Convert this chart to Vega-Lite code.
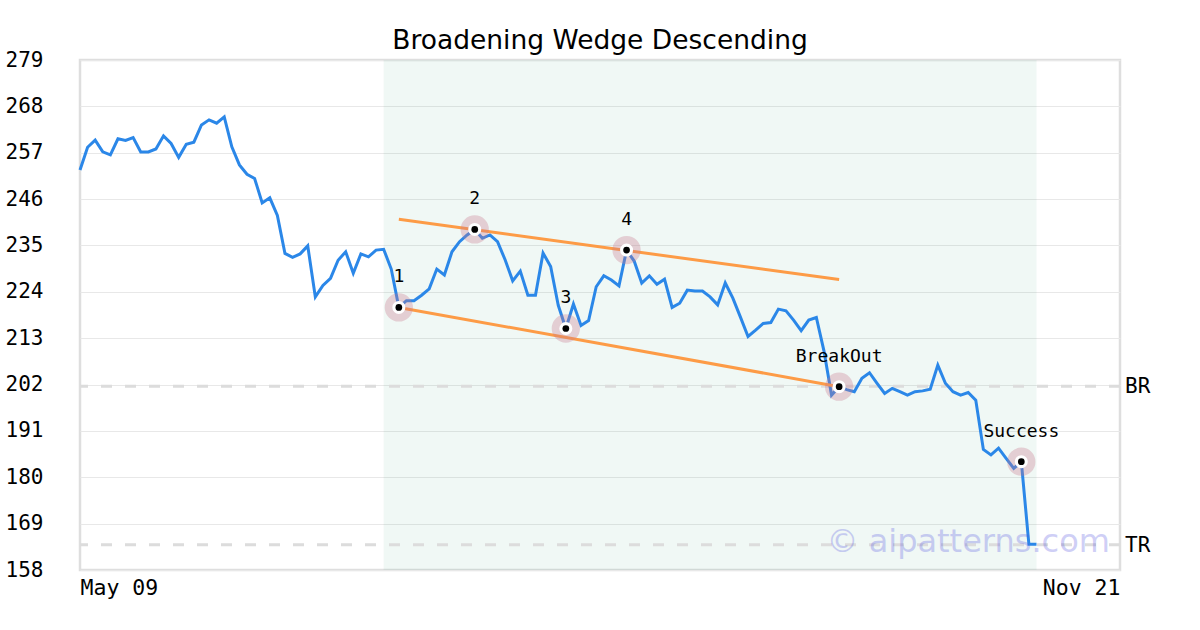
{
  "$schema": "https://vega.github.io/schema/vega-lite/v6.json",
  "width": 1040,
  "height": 510,
  "autosize": {"type": "none"},
  "padding": {"left": 80, "top": 60, "right": 80, "bottom": 60},
  "background": "white",
  "title": {"text": "Broadening Wedge Descending", "font": "DejaVu Sans", "fontSize": 26.5, "fontWeight": "normal", "color": "#000000", "offset": -5},
  "config": {"view": {"stroke": "#dedede", "strokeWidth": 2.5}},
  "datasets": {
    "zone": [{"start": 40, "end": 126}],
    "levels": [{"v": 201.6, "name": "BR"}, {"v": 164.0, "name": "TR"}],
    "price": [
      {"i": 0, "close": 252.9}, {"i": 1, "close": 258.3}, {"i": 2, "close": 260.0}, {"i": 3, "close": 257.2}, {"i": 4, "close": 256.5},
      {"i": 5, "close": 260.3}, {"i": 6, "close": 259.9}, {"i": 7, "close": 260.6}, {"i": 8, "close": 257.2}, {"i": 9, "close": 257.2},
      {"i": 10, "close": 257.9}, {"i": 11, "close": 261.0}, {"i": 12, "close": 259.2}, {"i": 13, "close": 255.9}, {"i": 14, "close": 259.0},
      {"i": 15, "close": 259.5}, {"i": 16, "close": 263.6}, {"i": 17, "close": 264.8}, {"i": 18, "close": 264.0}, {"i": 19, "close": 265.5},
      {"i": 20, "close": 258.4}, {"i": 21, "close": 254.1}, {"i": 22, "close": 251.9}, {"i": 23, "close": 250.9}, {"i": 24, "close": 245.1},
      {"i": 25, "close": 246.3}, {"i": 26, "close": 242.1}, {"i": 27, "close": 233.1}, {"i": 28, "close": 232.2}, {"i": 29, "close": 233.0},
      {"i": 30, "close": 234.9}, {"i": 31, "close": 222.8}, {"i": 32, "close": 225.5}, {"i": 33, "close": 227.2}, {"i": 34, "close": 231.5},
      {"i": 35, "close": 233.5}, {"i": 36, "close": 228.4}, {"i": 37, "close": 233.0}, {"i": 38, "close": 232.3}, {"i": 39, "close": 233.9},
      {"i": 40, "close": 234.1}, {"i": 41, "close": 229.4}, {"i": 42, "close": 220.3}, {"i": 43, "close": 221.9}, {"i": 44, "close": 221.9},
      {"i": 45, "close": 223.2}, {"i": 46, "close": 224.7}, {"i": 47, "close": 229.4}, {"i": 48, "close": 228.0}, {"i": 49, "close": 233.5},
      {"i": 50, "close": 235.9}, {"i": 51, "close": 237.5}, {"i": 52, "close": 238.8}, {"i": 53, "close": 236.7}, {"i": 54, "close": 237.5},
      {"i": 55, "close": 235.9}, {"i": 56, "close": 231.6}, {"i": 57, "close": 226.6}, {"i": 58, "close": 228.9}, {"i": 59, "close": 223.2},
      {"i": 60, "close": 223.2}, {"i": 61, "close": 233.2}, {"i": 62, "close": 230.0}, {"i": 63, "close": 220.8}, {"i": 64, "close": 215.3},
      {"i": 65, "close": 221.1}, {"i": 66, "close": 216.0}, {"i": 67, "close": 217.2}, {"i": 68, "close": 225.2}, {"i": 69, "close": 227.8},
      {"i": 70, "close": 226.8}, {"i": 71, "close": 225.4}, {"i": 72, "close": 233.9}, {"i": 73, "close": 231.3}, {"i": 74, "close": 226.1},
      {"i": 75, "close": 227.8}, {"i": 76, "close": 225.8}, {"i": 77, "close": 227.0}, {"i": 78, "close": 220.3}, {"i": 79, "close": 221.3},
      {"i": 80, "close": 224.4}, {"i": 81, "close": 224.2}, {"i": 82, "close": 224.2}, {"i": 83, "close": 222.8}, {"i": 84, "close": 220.9},
      {"i": 85, "close": 226.1}, {"i": 86, "close": 222.5}, {"i": 87, "close": 218.0}, {"i": 88, "close": 213.4}, {"i": 89, "close": 214.9},
      {"i": 90, "close": 216.5}, {"i": 91, "close": 216.7}, {"i": 92, "close": 219.9}, {"i": 93, "close": 219.5}, {"i": 94, "close": 217.3},
      {"i": 95, "close": 214.8}, {"i": 96, "close": 217.3}, {"i": 97, "close": 217.9}, {"i": 98, "close": 210.0}, {"i": 99, "close": 199.5},
      {"i": 100, "close": 201.5}, {"i": 101, "close": 200.8}, {"i": 102, "close": 200.3}, {"i": 103, "close": 203.5}, {"i": 104, "close": 204.8},
      {"i": 105, "close": 202.3}, {"i": 106, "close": 199.9}, {"i": 107, "close": 201.1}, {"i": 108, "close": 200.3}, {"i": 109, "close": 199.5},
      {"i": 110, "close": 200.3}, {"i": 111, "close": 200.5}, {"i": 112, "close": 200.9}, {"i": 113, "close": 206.6}, {"i": 114, "close": 202.3},
      {"i": 115, "close": 200.3}, {"i": 116, "close": 199.5}, {"i": 117, "close": 200.1}, {"i": 118, "close": 198.3}, {"i": 119, "close": 186.6},
      {"i": 120, "close": 185.3}, {"i": 121, "close": 186.9}, {"i": 122, "close": 184.5}, {"i": 123, "close": 182.1}, {"i": 124, "close": 183.7},
      {"i": 125, "close": 164.1}, {"i": 126, "close": 164.1}
    ],
    "wedge": [
      {"i": 42, "v": 241.2, "side": "upper"}, {"i": 100, "v": 226.9, "side": "upper"},
      {"i": 42, "v": 220.3, "side": "lower"}, {"i": 100, "v": 201.5, "side": "lower"}
    ],
    "pts": [
      {"i": 42, "v": 220.3, "label": "1"},
      {"i": 52, "v": 238.8, "label": "2"},
      {"i": 64, "v": 215.3, "label": "3"},
      {"i": 72, "v": 233.9, "label": "4"},
      {"i": 100, "v": 201.5, "label": "BreakOut"},
      {"i": 124, "v": 183.7, "label": "Success"}
    ]
  },
  "layer": [
    {
      "data": {"name": "zone"},
      "mark": {"type": "rect", "color": "#2e9e6e", "opacity": 0.07},
      "encoding": {
        "x": {"field": "start", "type": "quantitative", "scale": {"domain": [0, 137], "nice": false, "zero": false},
          "axis": {"values": [0, 137], "labelExpr": "datum.value < 1 ? 'May 09' : 'Nov 21'", "labelFlush": true, "labelOverlap": false, "grid": false, "domain": false, "ticks": false, "tickSize": 0, "labelPadding": 7, "title": null, "labelFont": "DejaVu Sans Mono", "labelFontSize": 21.5, "labelColor": "#000000"}},
        "x2": {"field": "end"}
      }
    },
    {
      "data": {"name": "levels"},
      "mark": {"type": "rule", "color": "#dcdcdc", "strokeWidth": 3, "strokeDash": [11, 13]},
      "encoding": {
        "y": {"field": "v", "type": "quantitative", "scale": {"domain": [158, 279], "nice": false, "zero": false},
          "axis": {"values": [158, 169, 180, 191, 202, 213, 224, 235, 246, 257, 268, 279], "title": null, "domain": false, "ticks": false, "tickSize": 0, "labelPadding": 37, "labelFont": "DejaVu Sans Mono", "labelFontSize": 21, "labelColor": "#000000", "grid": true, "gridColor": "#e8e8e8", "gridWidth": 1}}
      }
    },
    {
      "data": {"name": "price"},
      "mark": {"type": "line", "color": "#2b87e8", "strokeWidth": 3, "strokeJoin": "miter"},
      "encoding": {
        "x": {"field": "i", "type": "quantitative", "scale": {"domain": [0, 137], "nice": false, "zero": false},
          "axis": {"values": [0, 137], "labelExpr": "datum.value < 1 ? 'May 09' : 'Nov 21'", "labelFlush": true, "labelOverlap": false, "grid": false, "domain": false, "ticks": false, "tickSize": 0, "labelPadding": 7, "title": null, "labelFont": "DejaVu Sans Mono", "labelFontSize": 21.5, "labelColor": "#000000"}},
        "y": {"field": "close", "type": "quantitative", "scale": {"domain": [158, 279], "nice": false, "zero": false},
          "axis": {"values": [158, 169, 180, 191, 202, 213, 224, 235, 246, 257, 268, 279], "title": null, "domain": false, "ticks": false, "tickSize": 0, "labelPadding": 37, "labelFont": "DejaVu Sans Mono", "labelFontSize": 21, "labelColor": "#000000", "grid": true, "gridColor": "#e8e8e8", "gridWidth": 1}}
      }
    },
    {
      "data": {"name": "wedge"},
      "mark": {"type": "line", "color": "#fd9b46", "strokeWidth": 3},
      "encoding": {
        "x": {"field": "i", "type": "quantitative", "axis": {"title": null}},
        "y": {"field": "v", "type": "quantitative", "axis": {"title": null}},
        "detail": {"field": "side"}
      }
    },
    {
      "data": {"name": "pts"},
      "mark": {"type": "point", "filled": true, "color": "#c87890", "opacity": 0.33, "size": 800},
      "encoding": {
        "x": {"field": "i", "type": "quantitative", "axis": {"title": null}},
        "y": {"field": "v", "type": "quantitative", "axis": {"title": null}}
      }
    },
    {
      "data": {"name": "pts"},
      "mark": {"type": "point", "filled": true, "color": "#ffffff", "opacity": 1, "size": 170},
      "encoding": {
        "x": {"field": "i", "type": "quantitative", "axis": {"title": null}},
        "y": {"field": "v", "type": "quantitative", "axis": {"title": null}}
      }
    },
    {
      "data": {"name": "pts"},
      "mark": {"type": "point", "filled": true, "color": "#000000", "opacity": 1, "size": 45},
      "encoding": {
        "x": {"field": "i", "type": "quantitative", "axis": {"title": null}},
        "y": {"field": "v", "type": "quantitative", "axis": {"title": null}}
      }
    },
    {
      "data": {"name": "pts"},
      "mark": {"type": "text", "font": "DejaVu Sans Mono", "fontSize": 18, "color": "#000000", "align": "center", "baseline": "middle", "dy": -30},
      "encoding": {
        "x": {"field": "i", "type": "quantitative", "axis": {"title": null}},
        "y": {"field": "v", "type": "quantitative", "axis": {"title": null}},
        "text": {"field": "label"}
      }
    },
    {
      "data": {"name": "levels"},
      "mark": {"type": "text", "font": "DejaVu Sans Mono", "fontSize": 21, "color": "#000000", "align": "left", "baseline": "middle", "dx": 5, "dy": 1},
      "encoding": {
        "x": {"datum": 137, "type": "quantitative", "axis": {"title": null}},
        "y": {"field": "v", "type": "quantitative", "axis": {"title": null}},
        "text": {"field": "name"}
      }
    },
    {
      "data": {"values": [{"mark": "© aipatterns.com"}]},
      "mark": {"type": "text", "font": "DejaVu Sans", "fontSize": 32, "color": "#5050e0", "opacity": 0.27, "align": "center", "baseline": "alphabetic"},
      "encoding": {
        "x": {"datum": 117, "type": "quantitative", "axis": {"title": null}},
        "y": {"datum": 162.3, "type": "quantitative", "axis": {"title": null}},
        "text": {"field": "mark"}
      }
    }
  ]
}
